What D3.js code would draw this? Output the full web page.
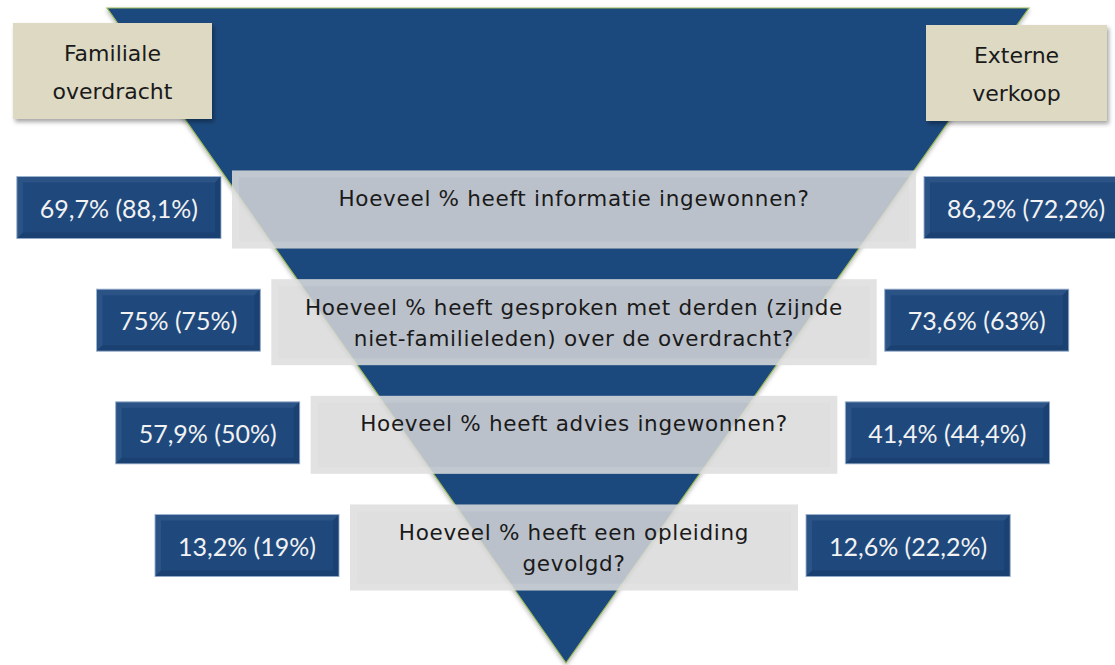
<!DOCTYPE html>
<html>
<head>
<meta charset="utf-8">
<script src="https://cdn.jsdelivr.net/npm/d3@7"></script>
<style>
  html, body { margin: 0; padding: 0; background: #fff; }
  svg { display: block; }
</style>
</head>
<body>
<div id="chart"></div>
<script>
// questions (one entry per funnel step, lines split as in the original)
const questions = [
    ["Hoeveel % heeft informatie ingewonnen?"],
    ["Hoeveel % heeft gesproken met derden (zijnde", "niet-familieleden) over de overdracht?"],
    ["Hoeveel % heeft advies ingewonnen?"],
    ["Hoeveel % heeft een opleiding", "gevolgd?"]
];
// familiale overdracht: current value and (value between brackets)
const familieValues = [69.7, 75, 57.9, 13.2];
const familiePrev = [88.1, 75, 50, 19];
// externe verkoop
const externValues = [86.2, 73.6, 41.4, 12.6];
const externPrev = [72.2, 63, 44.4, 22.2];
// headers
const leftHeader = ["Familiale", "overdracht"];
const rightHeader = ["Externe", "verkoop"];

const width = 1115, height = 665;
const blue = "#1f497d", beige = "#ddd9c3", green = "#9bbb59";

// dutch number formatting: comma as decimal separator
const fmt = v => d3.format("~r")(v).replace(".", ",") + "%";
const label = (v, p) => `${fmt(v)} (${fmt(p)})`;

const svg = d3.select("#chart").append("svg")
    .attr("width", width)
    .attr("height", height);

const defs = svg.append("defs");
defs.append("filter").attr("id", "shadow")
    .attr("x", "-10%").attr("y", "-10%").attr("width", "130%").attr("height", "140%")
    .append("feDropShadow")
    .attr("dx", 2).attr("dy", 3).attr("stdDeviation", 2)
    .attr("flood-color", "#000").attr("flood-opacity", 0.35);
defs.append("filter").attr("id", "softshadow")
    .attr("x", "-5%").attr("y", "-5%").attr("width", "110%").attr("height", "110%")
    .append("feDropShadow")
    .attr("dx", 0).attr("dy", 2).attr("stdDeviation", 2)
    .attr("flood-color", "#000").attr("flood-opacity", 0.3);

// funnel triangle
const funnelTop = 8, funnelBottom = 663;
const triangle = [[107, funnelTop], [1029, funnelTop], [566, funnelBottom]];
svg.append("path")
    .attr("d", d3.line()(triangle) + "Z")
    .attr("fill", blue)
    .attr("stroke", green)
    .attr("stroke-width", 1.2)
    .attr("filter", "url(#softshadow)");

// header boxes
function header(lines, x, y, w, h) {
    const g = svg.append("g").attr("transform", `translate(${x},${y})`);
    g.append("rect")
        .attr("width", w).attr("height", h)
        .attr("fill", beige)
        .attr("filter", "url(#shadow)");
    g.selectAll("text").data(lines).enter().append("text")
        .attr("x", w / 2)
        .attr("y", (d, i) => 30 + i * 38)
        .attr("text-anchor", "middle")
        .attr("dominant-baseline", "central")
        .attr("font-family", "DejaVu Sans, Verdana, sans-serif")
        .attr("font-size", 22)
        .attr("fill", "#1a1a1a")
        .text(d => d);
}
header(leftHeader, 13, 23, 199, 96);
header(rightHeader, 926, 25, 181, 96);

// row layout
const rows = d3.range(questions.length);
const rowY = d3.scaleLinear().domain([0, rows.length - 1]).range([209.5, 547.5]);
const halfW = d3.scaleLinear().domain([0, rows.length - 1]).range([342, 224]);
const cx = 574;

// bevel helper: lighter/darker edges like an office "bevel" shape
function bevel(g, w, h, b, light, dark, op) {
    const polys = [
        [[0, 0], [w, 0], [w - b, b], [b, b]],
        [[0, 0], [b, b], [b, h - b], [0, h]],
        [[w, 0], [w, h], [w - b, h - b], [w - b, b]],
        [[0, h], [b, h - b], [w - b, h - b], [w, h]]
    ];
    const cols = [light, light, dark, dark];
    g.selectAll("polygon.bev").data(polys).enter().append("polygon")
        .attr("class", "bev")
        .attr("points", d => d.join(" "))
        .attr("fill", (d, i) => cols[i])
        .attr("opacity", op);
}

// question boxes (semi-transparent grey)
rows.forEach(i => {
    const lines = questions[i];
    const h = lines.length > 1 ? 86 : 78;
    const w = halfW(i) * 2;
    const x = cx - halfW(i), y = rowY(i) - h / 2;
    const g = svg.append("g").attr("transform", `translate(${x},${y})`);
    g.append("rect")
        .attr("width", w).attr("height", h)
        .attr("fill", "#d9d9d9")
        .attr("fill-opacity", 0.84);
    bevel(g, w, h, 7, "#ffffff", "#ffffff", 0.12);
    g.selectAll("text.q").data(lines).enter().append("text")
        .attr("class", "q")
        .attr("x", w / 2)
        .attr("y", (d, k) => 28 + k * 31)
        .attr("text-anchor", "middle")
        .attr("dominant-baseline", "central")
        .attr("font-family", "DejaVu Sans, Verdana, sans-serif")
        .attr("font-size", 21.5)
        .attr("letter-spacing", 0.7)
        .attr("fill", "#1a1a1a")
        .text(d => d);
});

// value boxes (blue)
function valueBox(text, anchorX, side, yc) {
    const g = svg.append("g");
    const t = g.append("text")
        .attr("text-anchor", "middle")
        .attr("dominant-baseline", "central")
        .attr("font-family", "Lato, Calibri, sans-serif")
        .attr("font-size", 25)
        .attr("fill", "#f2f2f2")
        .text(text);
    const tw = t.node().getComputedTextLength();
    const w = tw + 46, h = 62;
    const x = side === "left" ? anchorX - w : anchorX;
    const y = yc - h / 2;
    const r = g.insert("g", "text").attr("transform", `translate(${x},${y})`);
    r.append("rect")
        .attr("width", w).attr("height", h)
        .attr("fill", blue)
        .attr("stroke", "#a7bcd6")
        .attr("stroke-width", 1);
    bevel(r, w, h, 6, "#4f75a5", "#0f2c52", 0.25);
    t.attr("x", x + w / 2).attr("y", yc);
}

rows.forEach(i => {
    const yc = rowY(i) - 2;
    valueBox(label(familieValues[i], familiePrev[i]), cx - halfW(i) - 11, "left", yc);
    valueBox(label(externValues[i], externPrev[i]), cx + halfW(i) + 8, "right", yc);
});
</script>
</body>
</html>
